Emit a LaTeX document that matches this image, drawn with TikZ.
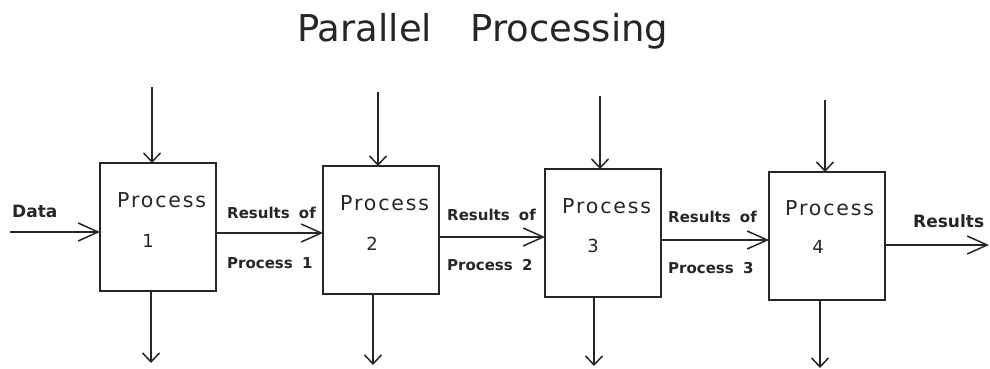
\documentclass[tikz,border=0pt]{standalone}
\usepackage{fontspec}
\usetikzlibrary{arrows.meta}
\newfontfamily\titlefont{DejaVu Sans}
\newfontfamily\boxfont[LetterSpace=9]{DejaVu Sans}
\newfontfamily\labelfont{DejaVu Sans}
\colorlet{ink}{black!85}
\tikzset{
  procbox/.style={draw=ink, line width=1.5pt, minimum width=116pt, minimum height=128pt,
                  inner sep=0pt, outer sep=0pt, anchor=north west},
  harrow/.style={draw=ink, line width=1.5pt, -{Straight Barb[length=20pt,width=18pt,line width=1.5pt]}},
  varrow/.style={draw=ink, line width=1.5pt, -{Straight Barb[length=9pt,width=17pt,line width=1.5pt]}},
  titletext/.style={text=ink, inner sep=0pt, anchor=base west, font=\titlefont\fontsize{37}{37}\selectfont},
  boxtext/.style={text=ink, inner sep=0pt, anchor=base west, font=\boxfont\fontsize{20.5}{20.5}\selectfont},
  numtext/.style={text=ink, inner sep=0pt, anchor=base, font=\boxfont\fontsize{18}{18}\selectfont},
  lbl/.style={text=ink, inner sep=0pt, anchor=base west, font=\labelfont\bfseries\fontsize{15}{15}\selectfont},
  biglbl/.style={lbl, font=\labelfont\bfseries\fontsize{17}{17}\selectfont},
}
\begin{document}
\begin{tikzpicture}[x=1pt, y=-1pt]
\useasboundingbox (0,0) rectangle (990,369);

% title
\node[titletext] (title) at (297,42) {Parallel\hspace{27pt} Processing};

% the four process boxes
\node[procbox] (p1) at (100,163) {};
\node[procbox] (p2) at (323,166) {};
\node[procbox] (p3) at (545,169) {};
\node[procbox] (p4) at (769,172) {};

% box captions
\node[boxtext] (p1a) at (117,207) {Process};
\node[numtext] (p1b) at (148,247) {1};
\node[boxtext] (p2a) at (340,210) {Process};
\node[numtext] (p2b) at (372,250) {2};
\node[boxtext] (p3a) at (562,213) {Process};
\node[numtext] (p3b) at (593,252) {3};
\node[boxtext] (p4a) at (785,215) {Process};
\node[numtext] (p4b) at (818,253) {4};

% free ends of the outside connectors
\coordinate (din) at (10,232);
\coordinate (dout) at (989,245);
\coordinate (t1) at (152,87);
\coordinate (t2) at (378,92);
\coordinate (t3) at (600,96);
\coordinate (t4) at (825,100);
\coordinate (b1) at (151,363);
\coordinate (b2) at (373,365);
\coordinate (b3) at (594,366);
\coordinate (b4) at (820,368);

% input and output
\draw[harrow] (din) -- (p1.west |- din);
\draw[harrow] (p4.east |- dout) -- (dout);

% results handed from one process to the next
\draw[harrow] (p1.east |- 0,233) -- (p2.west |- 0,233);
\draw[harrow] (p2.east |- 0,237) -- (p3.west |- 0,237);
\draw[harrow] (p3.east |- 0,240) -- (p4.west |- 0,240);

% vertical inputs and outputs
\foreach \i in {1,2,3,4}{
  \draw[varrow] (t\i) -- (t\i |- p\i.north);
  \draw[varrow] (b\i |- p\i.south) -- (b\i);
}

% connector labels
\node[biglbl] (ldata) at (12,217) {Data};
\node[lbl] (lr1) at (227,218) {Results\hspace{4pt} of};
\node[lbl] (lp1) at (227,268) {Process\hspace{4pt} 1};
\node[lbl] (lr2) at (447,220) {Results\hspace{4pt} of};
\node[lbl] (lp2) at (447,270) {Process\hspace{4pt} 2};
\node[lbl] (lr3) at (668,222) {Results\hspace{4pt} of};
\node[lbl] (lp3) at (668,273) {Process\hspace{4pt} 3};
\node[biglbl] (lout) at (913,227) {Results};
\end{tikzpicture}
\end{document}
